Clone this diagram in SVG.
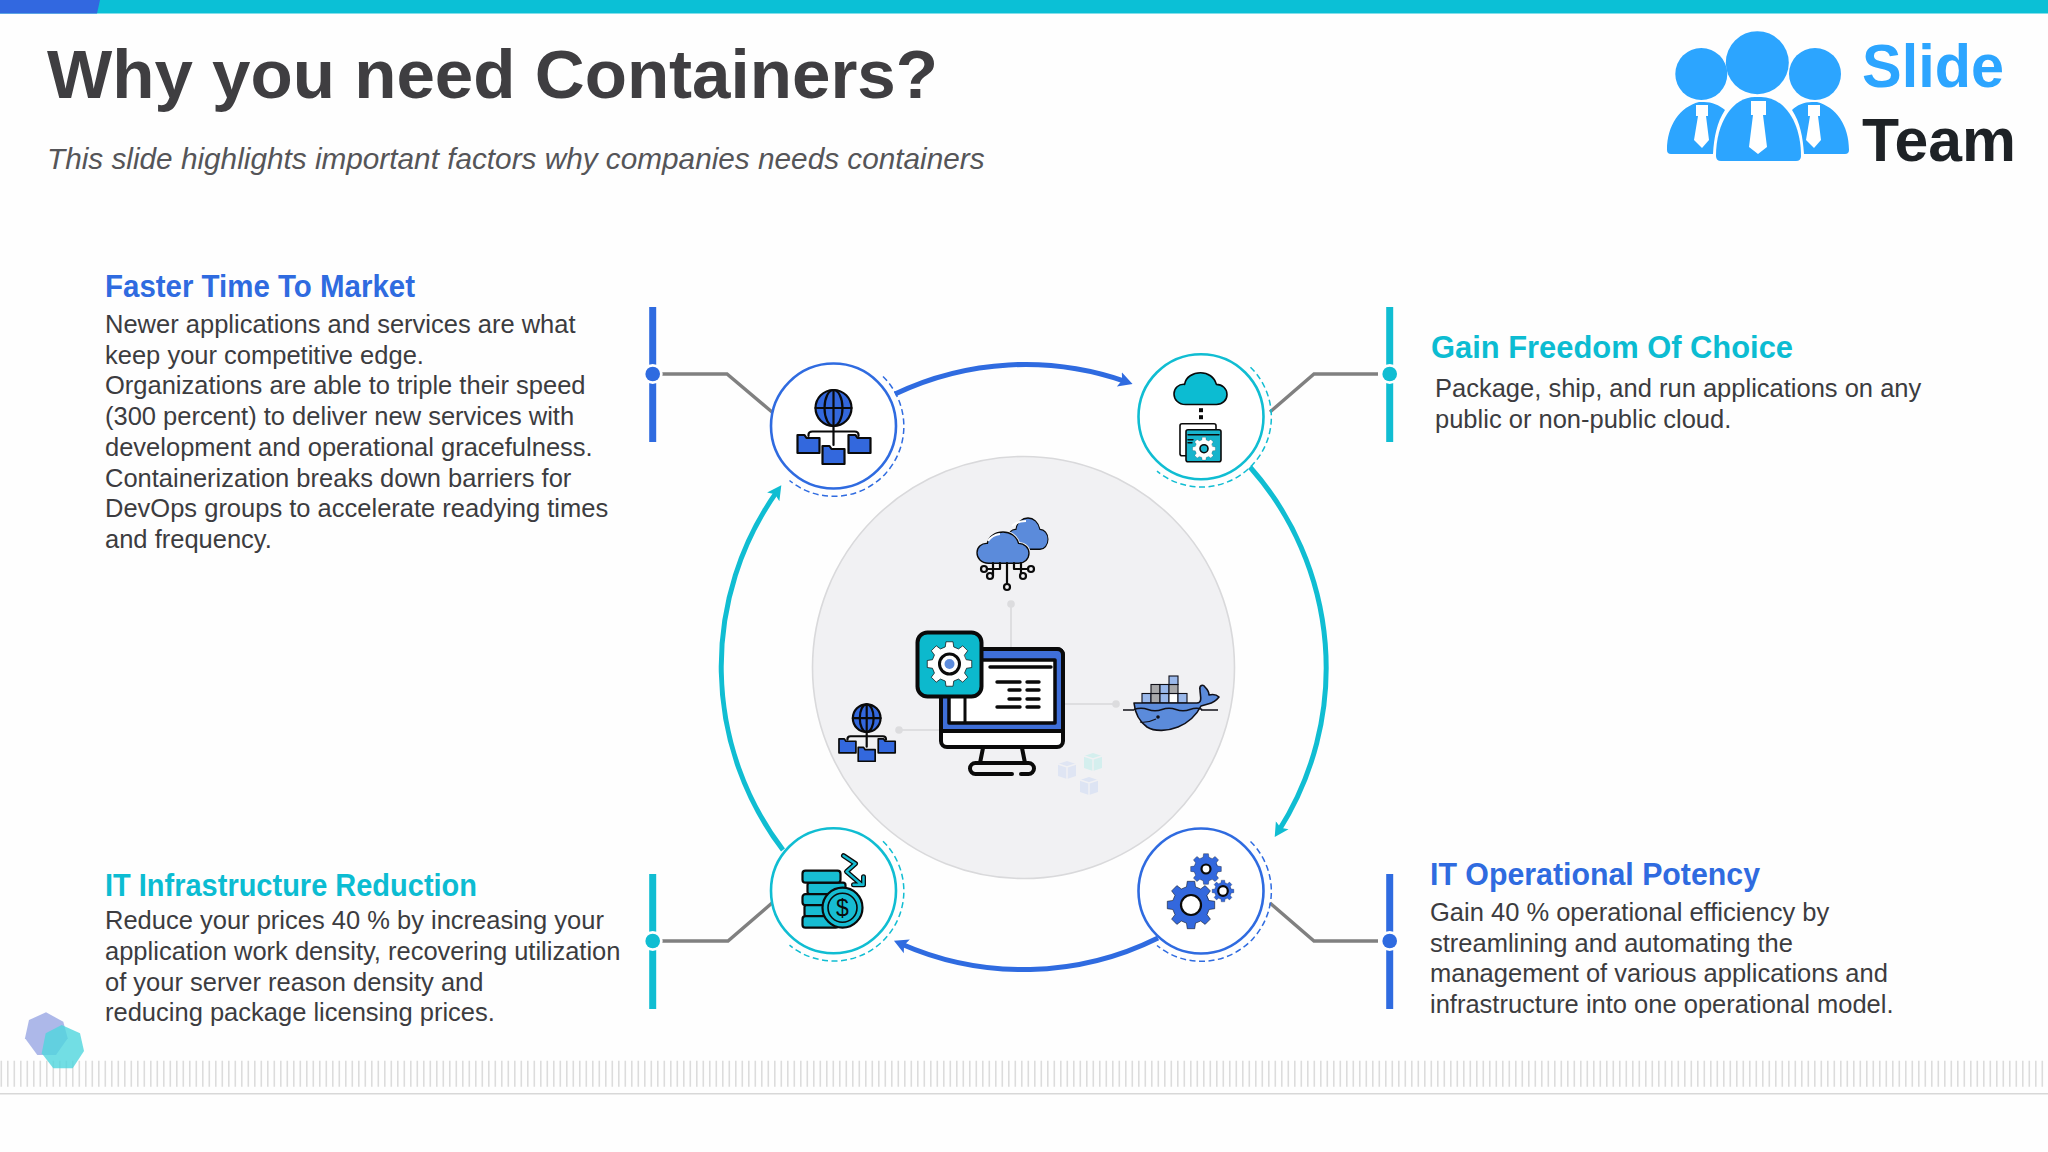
<svg xmlns="http://www.w3.org/2000/svg" xmlns:xlink="http://www.w3.org/1999/xlink" width="2048" height="1152" viewBox="0 0 2048 1152">
<style>
.title{font:700 68px "Liberation Sans",Arial,sans-serif;fill:#3f3e41}
.sub{font:italic 400 29.750px "Liberation Sans",Arial,sans-serif;fill:#555558}
.head{font:700 31px "Liberation Sans",Arial,sans-serif}
.body{font:400 25.500px "Liberation Sans",Arial,sans-serif;fill:#3c3c3f}
.blue{fill:#2f6be0}.teal{fill:#0cbcd2}
.ring{fill:#fff;stroke-width:2.6}
.dash{fill:none;stroke-width:1.5;stroke-dasharray:6 3.5}
.sb{stroke:#2f6be0}.st{stroke:#10bdd2}
.lead{fill:none;stroke:#808080;stroke-width:3.4}
.bar{stroke-width:7;fill:none}
.arc{fill:none;stroke-width:5}
.k{stroke:#0a0a0a;stroke-width:2.2;stroke-linejoin:round;stroke-linecap:round;vector-effect:non-scaling-stroke}
.nf{fill:none}
.faint{stroke:#dedee0;stroke-width:2;fill:none}
.fdot{fill:#dcdcde}
.lg{fill:#2ca5ff}
.lt{fill:#fff}
</style>
<defs>
<marker id="ab" markerUnits="userSpaceOnUse" markerWidth="18" markerHeight="20" viewBox="0 -10 18 20" refX="6" refY="0" orient="auto"><path d="M0,-7.5 L14,0 L0,7.5 L3,0 Z" fill="#2f6be0"/></marker>
<marker id="at" markerUnits="userSpaceOnUse" markerWidth="18" markerHeight="20" viewBox="0 -10 18 20" refX="6" refY="0" orient="auto"><path d="M0,-7.5 L14,0 L0,7.5 L3,0 Z" fill="#10bdd2"/></marker>
<path id="gear" d="M75.7,-18.9 L98.8,-15.6 L98.8,15.6 L75.7,18.9 L66.9,40.2 L80.9,58.8 L58.8,80.9 L40.2,66.9 L18.9,75.7 L15.6,98.8 L-15.6,98.8 L-18.9,75.7 L-40.2,66.9 L-58.8,80.9 L-80.9,58.8 L-66.9,40.2 L-75.7,18.9 L-98.8,15.6 L-98.8,-15.6 L-75.7,-18.9 L-66.9,-40.2 L-80.9,-58.8 L-58.8,-80.9 L-40.2,-66.9 L-18.9,-75.7 L-15.6,-98.8 L15.6,-98.8 L18.9,-75.7 L40.2,-66.9 L58.8,-80.9 L80.9,-58.8 L66.9,-40.2 Z"/>
<path id="cloud" d="M22,60 C8,60 0,50 0,40 C0,29 9,21 20,22 C22,8 36,0 50,0 C64,0 76,8 80,22 C91,22 100,30 100,41 C100,52 91,60 80,60 Z"/>
<path id="folder" d="M1,0 H8 L10,3 H23 V18 H1 Z"/>
<path id="dashes" d="M49.5,-49.5 A70 70 0 0 1 -44,54.5"/>
<g id="netico">
<circle cx="0" cy="-18" r="18" fill="#3368dd" class="k"/>
<ellipse cx="0" cy="-18" rx="9" ry="18" class="k nf"/>
<path d="M0,-36 V19 M-18,-18 H18 M-25,10 V9 Q-25,5.500 -21,5.500 H21 Q25,5.500 25,9 V10" class="k nf"/>
<use href="#folder" transform="translate(-37,9)" fill="#3368dd" class="k"/>
<use href="#folder" transform="translate(14,9)" fill="#3368dd" class="k"/>
<use href="#folder" transform="translate(-12,20)" fill="#3368dd" class="k"/>
</g>
<g id="box"><path d="M-9,-6 L0,-9 L9,-6 V6 L0,9 L-9,6 Z"/><path d="M-9,-6 L0,-3 L9,-6 M0,-3 V9" fill="none" stroke="#f1f1f3" stroke-width="1.4"/></g>
</defs>

<rect id="page" width="2048" height="1152" fill="#fefefe"/>
<rect width="2048" height="13.500" fill="#0bc0d6"/>
<path d="M0,0 H100 L97,13.500 H0 Z" fill="#3268e0"/>

<g id="footer">
<line x1="0" y1="1073.700" x2="2048" y2="1073.700" stroke="#dcdcdc" stroke-width="26" stroke-dasharray="1.600 4.900" stroke-dashoffset="-0.500"/>
<line x1="0" y1="1093.700" x2="2048" y2="1093.700" stroke="#d8d8d8" stroke-width="1.500"/>
<polygon points="46,1012.300 63.300,1021.700 67.700,1038.300 56,1055 37.300,1055 25,1038.300 29,1020" fill="#a9b4e8" fill-opacity="0.95"/>
<polygon points="61.700,1025 80,1033.300 84,1051 72.700,1068.300 53.300,1068.300 41.700,1053.300 45.700,1033.300" fill="#4fd6dd" fill-opacity="0.8"/>
</g>

<g id="heading">
<text class="title" x="47" y="98" textLength="891" lengthAdjust="spacingAndGlyphs">Why you need Containers?</text>
<text class="sub" x="47" y="169">This slide highlights important factors why companies needs containers</text>
</g>

<g id="logo">
<circle class="lg" cx="1757.300" cy="62.700" r="31.500"/>
<circle class="lg" cx="1701.300" cy="74" r="26"/>
<circle class="lg" cx="1815" cy="74" r="26"/>
<path class="lg" d="M1667,150 C1667,125 1680,107 1699,102 H1704 C1712,102 1719,105 1725,110 C1717,122 1714,137 1713,154 H1671 Q1667,154 1667,150 Z"/>
<path class="lg" d="M1849,150 C1849,125 1836,107 1817,102 H1812 C1804,102 1797,105 1792,110 C1800,122 1803,137 1804,154 H1845 Q1849,154 1849,150 Z"/>
<path class="lg" d="M1716,156 C1716,122 1733,97 1755,97 H1761 C1784,97 1801,122 1801,156 Q1801,161 1796,161 H1721 Q1716,161 1716,156 Z"/>
<path class="lt" d="M1751,101 H1766 V115 H1763 L1767,147 L1758,154 L1749,147 L1753,115 H1751 Z"/>
<path class="lt" d="M1696,105 H1708 V116 H1706 L1709,140 L1702,148 L1694,140 L1698,116 H1696 Z"/>
<path class="lt" d="M1808,105 H1820 V116 H1818 L1821,140 L1814,148 L1806,140 L1810,116 H1808 Z"/>
<text x="1862" y="87" font-family="'Liberation Sans',Arial,sans-serif" font-weight="700" font-size="62" fill="#2ca5ff" textLength="142" lengthAdjust="spacingAndGlyphs">Slide</text>
<text x="1862" y="160.500" font-family="'Liberation Sans',Arial,sans-serif" font-weight="700" font-size="62" fill="#1e2226" textLength="154" lengthAdjust="spacingAndGlyphs">Team</text>
</g>

<g id="connectors">
<path class="arc sb" marker-end="url(#ab)" d="M895,394 A303 303 0 0 1 1125,381.300"/>
<path class="arc st" marker-end="url(#at)" d="M1250,467 A303 303 0 0 1 1279,830.300"/>
<path class="arc sb" marker-end="url(#ab)" d="M1158,938 A303 303 0 0 1 901.300,944"/>
<path class="arc st" marker-end="url(#at)" d="M783,850 A303 303 0 0 1 776.700,491.900"/>
<path class="lead" d="M662,374 H727 L772,412"/>
<path class="lead" d="M1378,374 H1314 L1270,412"/>
<path class="lead" d="M662,941 H728 L772,903"/>
<path class="lead" d="M1378,941 H1314 L1270,903"/>
</g>

<g id="bar-faster"><line class="bar sb" x1="652.700" y1="307" x2="652.700" y2="442"/><circle cx="652.700" cy="374" r="10" fill="#fff"/><circle cx="652.700" cy="374" r="7.300" fill="#2f6be0"/></g>
<g id="bar-freedom"><line class="bar st" x1="1389.700" y1="307" x2="1389.700" y2="442"/><circle cx="1389.700" cy="374" r="10" fill="#fff"/><circle cx="1389.700" cy="374" r="7.300" fill="#10bdd2"/></g>
<g id="bar-infra"><line class="bar st" x1="652.700" y1="874" x2="652.700" y2="1009"/><circle cx="652.700" cy="941" r="10" fill="#fff"/><circle cx="652.700" cy="941" r="7.300" fill="#10bdd2"/></g>
<g id="bar-potency"><line class="bar sb" x1="1389.700" y1="874" x2="1389.700" y2="1009"/><circle cx="1389.700" cy="941" r="10" fill="#fff"/><circle cx="1389.700" cy="941" r="7.300" fill="#2f6be0"/></g>

<g id="node-faster" transform="translate(833.500,426)">
<circle class="ring sb" r="62.500"/><use href="#dashes" class="dash sb"/>
<use href="#netico"/>
</g>

<g id="node-freedom" transform="translate(1201,416.700)">
<circle class="ring st" r="62.500"/><use href="#dashes" class="dash st"/>
<use href="#cloud" transform="translate(-27,-44) scale(.53)" fill="#0cbcd2" class="k" style="stroke-width:3"/>
<rect x="-2" y="-8.500" width="4" height="4" fill="#0a0a0a"/><rect x="-2" y="-1.500" width="4" height="4" fill="#0a0a0a"/>
<rect x="-21" y="7" width="36" height="32" rx="2" fill="#fff" class="k" style="stroke-width:1.6"/>
<rect x="-15" y="13" width="35" height="32" rx="2" fill="#17b4cc" class="k" style="stroke-width:1.6"/>
<path d="M-13,18 H18 M-13,23 H-8 M-13,26 H-9" class="k nf" style="stroke-width:1.400"/>
<use href="#gear" transform="translate(3,32) scale(.115)" fill="#fff" class="k" style="stroke-width:1.600"/>
<circle cx="3" cy="32" r="4" fill="#17b4cc" class="k" style="stroke-width:1.600"/>
</g>

<g id="node-infra" transform="translate(833.500,890.700)">
<circle class="ring st" r="62.500"/><use href="#dashes" class="dash st"/>
<g fill="#17bcd2" class="k" style="stroke-width:2">
<rect x="-26" y="-8" width="38" height="11.500" rx="2.500" class="k"/>
<rect x="-31" y="-20" width="38" height="12" rx="3" class="k"/>
<rect x="-31" y="3.500" width="36" height="11" rx="3" class="k"/>
<rect x="-29" y="14.500" width="34" height="11" rx="2" class="k"/>
<rect x="-31" y="25.500" width="36" height="11.500" rx="3" class="k"/>
</g>
<circle cx="9" cy="17" r="20" fill="#17bcd2" class="k"/>
<circle cx="9" cy="17" r="14.500" fill="#17bcd2" class="k" style="stroke-width:1.600"/>
<text x="9" y="25" font-family="'Liberation Sans',Arial,sans-serif" font-size="23" text-anchor="middle" fill="#0a0a0a">$</text>
<path d="M10,-35 L22,-27 L13,-19 L28,-6 M20,-6 H30 V-14" fill="none" stroke="#0a0a0a" stroke-width="5" stroke-linejoin="round" stroke-linecap="round"/>
<path d="M10,-35 L22,-27 L13,-19 L28,-6 M20,-6 H30 V-14" fill="none" stroke="#17bcd2" stroke-width="2.400" stroke-linejoin="round" stroke-linecap="round"/>
</g>

<g id="node-potency" transform="translate(1201,891)">
<circle class="ring sb" r="62.500"/><use href="#dashes" class="dash sb"/>
<use href="#gear" transform="translate(-10,14) scale(.24)" fill="#3368dd" class="k"/>
<circle cx="-10" cy="14" r="10" fill="#fff" class="k"/>
<use href="#gear" transform="translate(5,-22) scale(.155)" fill="#3368dd" class="k"/>
<circle cx="5" cy="-22" r="4.500" fill="#fff" class="k"/>
<use href="#gear" transform="translate(22,0) scale(.11)" fill="#3368dd" class="k"/>
<circle cx="22" cy="0" r="4.800" fill="#fff" class="k"/>
</g>

<g id="hub">
<circle cx="1023.500" cy="667.500" r="211" fill="#f1f1f3" stroke="#d9d9db" stroke-width="1.600"/>
<path class="faint" d="M1011,604 V648 M1064,704 H1116 M899,730 H940"/>
<circle class="fdot" cx="1011" cy="604" r="3.800"/><circle class="fdot" cx="1116" cy="704" r="3.800"/><circle class="fdot" cx="899" cy="730" r="3.800"/>
<use href="#box" transform="translate(1067,770)" fill="#dfe5f3"/>
<use href="#box" transform="translate(1093,762)" fill="#d4efee"/>
<use href="#box" transform="translate(1089,786)" fill="#dde4f3"/>
</g>

<g id="monitor" stroke="#0a0a0a" stroke-linejoin="round" stroke-linecap="round">
<path d="M983,748 L980,763 M1022,748 L1025,763" stroke-width="4" fill="none"/>
<path d="M1012,774 H975.500 a5.500 5.500 0 0 1 0 -11 H1028.500 a5.500 5.500 0 0 1 0 11 H1021" stroke-width="4" fill="#f1f1f3"/>
<rect x="941" y="649" width="122" height="98" rx="6" fill="#fff" stroke-width="4"/>
<path d="M941,731 V655 a6 6 0 0 1 6 -6 H1057 a6 6 0 0 1 6 6 V731 Z" fill="#3f6fd8" stroke-width="4"/>
<rect x="949" y="660" width="106" height="63" fill="#fff" stroke-width="3.500"/>
<path d="M965,697 V722" fill="none" stroke-width="3"/>
<path d="M990,667 H1051 M997,682 H1020 M1027,682 H1039 M1009,690 H1020 M1027,690 H1039 M1009,699 H1020 M1027,699 H1039 M997,707 H1020 M1027,707 H1039" fill="none" stroke-width="3.400"/>
<rect x="917.500" y="632.500" width="64" height="64" rx="10" fill="#0cb9cd" stroke-width="4"/>
<use href="#gear" transform="translate(949.500,664) scale(.225)" fill="#fff" style="stroke-width:3.200;vector-effect:non-scaling-stroke"/>
<circle cx="949.500" cy="664" r="10" fill="#fff" stroke-width="3"/>
<circle cx="949.500" cy="664" r="5" fill="#5c8bdc" stroke="none"/>
</g>

<g id="clouds">
<use href="#cloud" transform="translate(1008,518) scale(.4,.52)" fill="#5b8bdb" class="k" style="stroke-width:2.600"/>
<use href="#cloud" transform="translate(977,532) scale(.52)" fill="#5b8bdb" class="k" style="stroke:#f1f1f3;stroke-width:6"/>
<use href="#cloud" transform="translate(977,532) scale(.52)" fill="#5b8bdb" class="k" style="stroke-width:2.600"/>
<path d="M988,541 Q992,535 1000,534 M1012,526 Q1018,521 1026,521" stroke="#fff" stroke-width="2" fill="none"/>
<path class="k nf" d="M1007,563 V584 M1000,563 V569 H987 M993,563 V576 H992 M1014,563 V569 H1028 M1021,563 V576 H1020"/>
<g fill="#f1f1f3" class="k"><circle class="k" cx="1007" cy="587" r="3"/><circle class="k" cx="984" cy="569" r="3"/><circle class="k" cx="990" cy="576" r="3"/><circle class="k" cx="1031" cy="569" r="3"/><circle class="k" cx="1023" cy="576" r="3"/></g>
</g>

<g id="small-net" transform="translate(866.700,732) scale(.77)"><use href="#netico"/></g>

<g id="docker">
<g stroke="#101018" stroke-width="1.100">
<rect x="1142" y="693.500" width="9" height="9.500" fill="#9ab8ea"/>
<rect x="1151" y="693.500" width="9" height="9.500" fill="#a8a8aa"/>
<rect x="1160" y="693.500" width="9" height="9.500" fill="#9ab8ea"/>
<rect x="1169" y="693.500" width="9" height="9.500" fill="#fff"/>
<rect x="1178" y="693.500" width="9" height="9.500" fill="#9ab8ea"/>
<rect x="1151" y="684.500" width="9" height="9" fill="#a8a8aa"/>
<rect x="1160" y="684.500" width="9" height="9" fill="#9ab8ea"/>
<rect x="1169" y="684.500" width="9" height="9" fill="#a8a8aa"/>
<rect x="1169" y="676" width="9" height="8.500" fill="#9ab8ea"/>
</g>
<path d="M1134,703 L1197,703 C1203,703 1200,695 1200,690 C1199,685 1203,684 1205,687 C1208,690 1209,693 1209,695 C1213,694 1217,695 1219,697 C1216,701 1212,703 1208,704 L1201,706 C1197,714 1190,722 1178,727 C1168,731 1155,732 1147,727 C1140,722 1135,713 1134,703 Z" fill="#5b8bdb" stroke="#101018" stroke-width="1.600" stroke-linejoin="round"/>
<path d="M1123,710 H1134 M1201,710 H1218 M1134,709.500 Q1141,707 1148,709.500 T1162,709.500 T1176,709.500 T1190,709.500 T1202,709.500" fill="none" stroke="#101018" stroke-width="1.500"/>
<path d="M1140,722 C1147,723 1152,721 1156,719" fill="none" stroke="#101018" stroke-width="1.200"/>
<circle cx="1158" cy="717" r="1.800" fill="#101018"/>
</g>

<g id="text-faster">
<text class="head blue" x="105" y="297" textLength="310" lengthAdjust="spacingAndGlyphs">Faster Time To Market</text>
<text class="body" x="105" y="333">Newer applications and services are what</text>
<text class="body" x="105" y="363.700">keep your competitive edge.</text>
<text class="body" x="105" y="394.400">Organizations are able to triple their speed</text>
<text class="body" x="105" y="425">(300 percent) to deliver new services with</text>
<text class="body" x="105" y="455.800">development and operational gracefulness.</text>
<text class="body" x="105" y="486.500">Containerization breaks down barriers for</text>
<text class="body" x="105" y="517.200">DevOps groups to accelerate readying times</text>
<text class="body" x="105" y="548">and frequency.</text>
</g>
<g id="text-freedom">
<text class="head teal" x="1431" y="357.500" textLength="362" lengthAdjust="spacingAndGlyphs">Gain Freedom Of Choice</text>
<text class="body" x="1435" y="397">Package, ship, and run applications on any</text>
<text class="body" x="1435" y="428">public or non-public cloud.</text>
</g>
<g id="text-infra">
<text class="head teal" x="105" y="895.500" textLength="372" lengthAdjust="spacingAndGlyphs">IT Infrastructure Reduction</text>
<text class="body" x="105" y="929">Reduce your prices 40 % by increasing your</text>
<text class="body" x="105" y="960">application work density, recovering utilization</text>
<text class="body" x="105" y="990.500">of your server reason density and</text>
<text class="body" x="105" y="1021">reducing package licensing prices.</text>
</g>
<g id="text-potency">
<text class="head blue" x="1430" y="885" textLength="330" lengthAdjust="spacingAndGlyphs">IT Operational Potency</text>
<text class="body" x="1430" y="921">Gain 40 % operational efficiency by</text>
<text class="body" x="1430" y="951.500">streamlining and automating the</text>
<text class="body" x="1430" y="982">management of various applications and</text>
<text class="body" x="1430" y="1013">infrastructure into one operational model.</text>
</g>
</svg>
